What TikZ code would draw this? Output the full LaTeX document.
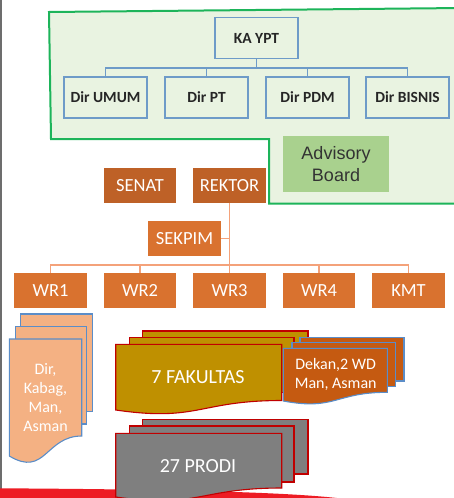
\documentclass[tikz,border=0pt]{standalone}
\usepackage{fontspec}
\setmainfont{Carlito}
\newfontfamily\arialf{Liberation Sans}
\definecolor{grnline}{HTML}{1DB45A}
\definecolor{grnbg}{HTML}{E9F3E1}
\definecolor{boxblue}{HTML}{6E9BC8}
\definecolor{txtdark}{HTML}{262626}
\definecolor{advfill}{HTML}{A9D18E}
\definecolor{advtxt}{HTML}{333333}
\definecolor{darkor}{HTML}{BE6127}
\definecolor{wror}{HTML}{D9722F}
\definecolor{orline}{HTML}{F4A27A}
\definecolor{dirfill}{HTML}{F4B183}
\definecolor{pageblue}{HTML}{5B8DC8}
\definecolor{fakfill}{HTML}{BF9000}
\definecolor{pagered}{HTML}{C00000}
\definecolor{dekfill}{HTML}{C55A11}
\definecolor{prodifill}{HTML}{7F7F7F}
\definecolor{bandred}{HTML}{ED1C24}
\definecolor{edgegray}{HTML}{6D6D6D}
\begin{document}
\begin{tikzpicture}[x=1pt,y=-1pt,
  bluebox/.style={draw=boxblue, line width=1.3pt, minimum width=83pt, minimum height=41pt, inner sep=0pt,
    font=\fontsize{15.5}{18}\selectfont\bfseries, text=txtdark},
  orbox/.style={fill=#1, minimum width=72.5pt, minimum height=35pt, inner sep=0pt, text=white,
    font=\fontsize{18.5}{21}\selectfont},
  blueln/.style={draw=boxblue, line width=1.3pt},
  orln/.style={draw=orline, line width=1.5pt},
  pagetext/.style={text=white, align=center, inner sep=0pt}
]
\useasboundingbox (0,0) rectangle (453,498);

% left slide edge
\draw[edgegray, line width=1.5pt] (0.75,0) -- (0.75,489);

% green region
\filldraw[fill=grnbg, draw=grnline, line width=2pt]
  (49,12) -- (462,8) -- (462,203.5) -- (269,203.5) -- (269,139) -- (51,139) -- cycle;

% top tree
\node[bluebox] (ka) at (256.5,38) {KA YPT};
\node[bluebox] (dumum) at (105.5,97.5) {Dir UMUM};
\node[bluebox] (dpt) at (206.5,97.5) {Dir PT};
\node[bluebox] (dpdm) at (307.5,97.5) {Dir PDM};
\node[bluebox] (dbis) at (407.5,97.5) {Dir BISNIS};
\coordinate (bus) at (256.5,68);
\draw[blueln] (ka.south) -- (bus);
\draw[blueln] (dumum.north) -- (dumum.north |- bus) -- (dbis.north |- bus) -- (dbis.north);
\draw[blueln] (dpt.north) -- (dpt.north |- bus);
\draw[blueln] (dpdm.north) -- (dpdm.north |- bus);

% advisory board
\node[fill=advfill, minimum width=106pt, minimum height=56pt, inner sep=0pt, align=center,
  text=advtxt, font=\arialf\fontsize{18}{22}\selectfont] (adv) at (336,164) {Advisory\\Board};

% rektor tree
\node[orbox=darkor] (senat) at (140,185.5) {SENAT};
\node[orbox=darkor] (rektor) at (229.5,185.5) {REKTOR};
\node[orbox=wror] (sekpim) at (184.5,238.5) {SEKPIM};
\node[orbox=wror] (wr1) at (50.5,290.5) {WR1};
\node[orbox=wror] (wr2) at (140,290.5) {WR2};
\node[orbox=wror] (wr3) at (229.5,290.5) {WR3};
\node[orbox=wror] (wr4) at (319,290.5) {WR4};
\node[orbox=wror] (kmt) at (408.5,290.5) {KMT};
\coordinate (wbus) at (229.5,265);
\draw[orln] (rektor.south) -- (wr3.north);
\draw[orln] (sekpim.east) -- (sekpim.east -| rektor.south);
\draw[orln] (wr1.north) -- (wr1.north |- wbus) -- (kmt.north |- wbus) -- (kmt.north);
\draw[orln] (wr2.north) -- (wr2.north |- wbus);
\draw[orln] (wr4.north) -- (wr4.north |- wbus);

% Dir stack
\begin{scope}[fill=dirfill, draw=pageblue, line width=1.1pt]
\filldraw (20.7,314) rectangle (92.7,411.7);
\filldraw (15.7,326.7) rectangle (86.7,424);
\filldraw (9.3,339) -- (81.7,339) -- (81.7,436)
  .. controls (45.5,436) and (45.5,477.7) .. (9.3,456) -- cycle;
\end{scope}
\node[pagetext, font=\fontsize{16}{19.3}\selectfont] (dirtxt) at (45.5,397.5) {Dir,\\Kabag,\\Man,\\Asman};

% 7 FAKULTAS stack
\begin{scope}[fill=fakfill, draw=pagered, line width=1.1pt]
\filldraw (142.3,331) rectangle (308,386);
\filldraw (129.3,337.3) rectangle (294,392.7);
\filldraw (115.7,344.3) -- (281.7,344.3) -- (281.7,400.5)
  .. controls (198.7,400.5) and (198.7,422.1) .. (115.7,410) -- cycle;
\end{scope}
\node[pagetext, font=\fontsize{20}{24}\selectfont] (fak) at (198,377.5) {7 FAKULTAS};

% Dekan stack
\begin{scope}[fill=dekfill, draw=pageblue, line width=1.1pt]
\filldraw (300,337.3) rectangle (404,381);
\filldraw (292,342.7) rectangle (395.7,386.7);
\filldraw (283.3,348.3) -- (387.3,348.3) -- (387.3,392.3)
  .. controls (335.3,392.3) and (335.3,410.8) .. (283.3,401) -- cycle;
\end{scope}
\node[pagetext, font=\fontsize{16}{19}\selectfont] (dekan) at (335.7,374.5) {Dekan,2 WD\\Man, Asman};

% red band
\fill[bandred] (0,488.3) .. controls (200,489.5) and (300,493) .. (345,499) -- (345,505) -- (0,505) -- cycle;

% 27 PRODI stack
\begin{scope}[fill=prodifill, draw=pagered, line width=1.1pt]
\filldraw (142.3,419.5) rectangle (308,474);
\filldraw (129.3,426) rectangle (294,482);
\filldraw (115.7,433.3) -- (281.7,433.3) -- (281.7,488)
  .. controls (198.7,488) and (198.7,508.8) .. (115.7,497) -- cycle;
\end{scope}
\node[pagetext, font=\fontsize{20}{24}\selectfont] (prodi) at (198,466.3) {27 PRODI};
\end{tikzpicture}
\end{document}
